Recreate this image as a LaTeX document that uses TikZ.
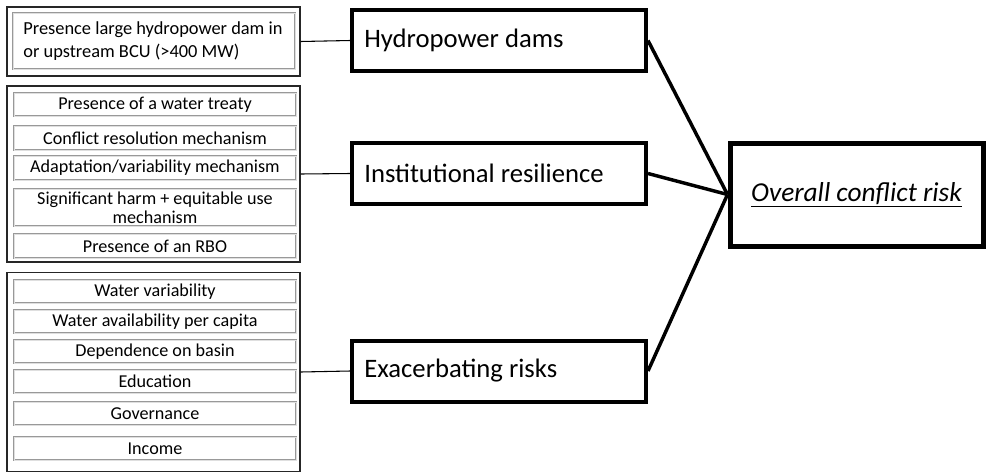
\documentclass[tikz,border=0pt]{standalone}
\usepackage{fontspec}
\setmainfont{Carlito}
\usetikzlibrary{positioning}

\tikzset{
  group/.style={draw=black!85, line width=0.9pt, minimum width=219.75pt, inner sep=0pt},
  item/.style={draw=gray!80, double=gray!25, double distance=0.7pt, line width=0.6pt,
    minimum width=211.5pt, minimum height=17.25pt, inner sep=1pt, align=center,
    font=\fontsize{13.6}{14}\selectfont},
  factor/.style={draw, line width=3pt, minimum width=220.5pt, minimum height=45.75pt,
    text width=202pt, align=flush left, inner sep=0pt, font=\fontsize{20}{22}\selectfont},
  link/.style={line width=2.6pt},
  feed/.style={line width=0.8pt}
}

\begin{document}
\begin{tikzpicture}[x=0.75pt, y=-0.75pt]
    \useasboundingbox (0,0) rectangle (989,472);
    % left groups of indicators
    \node [group, minimum height=51.75pt] (grpA) at (153.5,41.5) {};
    \node [group, minimum height=132pt] (grpB) at (153.5,174) {};
    \node [group, minimum height=149.25pt] (grpC) at (153.5,372) {};
    \node [item, minimum height=42pt, text width=196pt, align=flush left, font=\fontsize{13.8}{17}\selectfont] (dam) at (154,41) {Presence large hydropower dam in\\or upstream BCU (>400 MW)};
    \node [item] (treaty) at (155,104.5) {Presence of a water treaty};
    \node [item, minimum height=18pt] (resol) at (155,138) {Conflict resolution mechanism};
    \node [item, minimum height=18pt] (adapt) at (155,168) {Adaptation/variability mechanism};
    \node [item, minimum height=27.75pt, font=\fontsize{13.6}{14.5}\selectfont] (harm) at (155,207.5) {Significant harm + equitable use\\mechanism};
    \node [item, minimum height=18pt] (rbo) at (155,246) {Presence of an RBO};
    \foreach \y/\name/\txt in {291.5/wvar/Water variability, 321.5/wavail/Water availability per capita,
        351.5/depend/Dependence on basin, 381.5/edu/Education, 413.5/gov/Governance, 448.5/income/Income}
        { \node [item] (\name) at (155,\y) {\txt}; }
    % risk factors
    \node [factor] (hydro) at (499,40.5) {Hydropower dams};
    \node [factor] (inst) at (499,173.5) {Institutional resilience};
    \node [factor] (exac) at (499,371) {Exacerbating risks};
    \node [draw, line width=3.75pt, minimum width=189.75pt, minimum height=77.25pt,
        font=\fontsize{20.5}{22}\selectfont\itshape] (overall) at (856.5,194.5) {\underline{Overall conflict risk}};
    % connectors
    \draw [feed] (grpA.east) -- (hydro.west);
    \draw [feed] (grpB.east) -- (inst.west);
    \draw [feed] (grpC.east) -- (exac.west);
    \foreach \n in {hydro, inst, exac} { \draw [link] (\n.east) -- (overall.west); }
\end{tikzpicture}
\end{document}
